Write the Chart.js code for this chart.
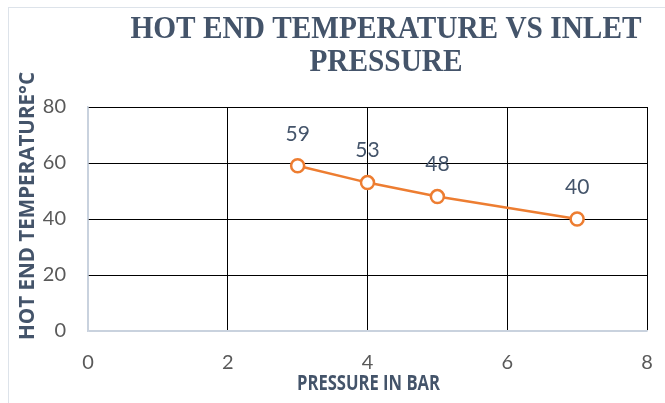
<!DOCTYPE html>
<html>
<head>
<meta charset="utf-8">
<title>Hot end temperature vs inlet pressure</title>
<script src="https://cdn.jsdelivr.net/npm/chart.js@4/dist/chart.umd.min.js"></script>
<style>
  html, body { margin: 0; padding: 0; background: #fff; }
  #chart { display: block; }
</style>
</head>
<body>
<canvas id="chart" width="665" height="403"></canvas>
<script>
// Data
const pressures = [3, 4, 5, 7];          // bar
const temperatures = [59, 53, 48, 40];   // °C
const xTicks = [0, 2, 4, 6, 8];
const yTicks = [0, 20, 40, 60, 80];

const titleLines = ['HOT END TEMPERATURE VS INLET', 'PRESSURE'];
const xTitle = 'PRESSURE IN BAR';
const yTitle = 'HOT END TEMPERATURE°C';

const textColor = '#44546A';
const tickColor = '#595959';
const axisColor = '#C9D2DE';

// draw text squeezed/stretched horizontally
function fitText(ctx, text, x, y, font, scaleX, rotation) {
    ctx.save();
    ctx.font = font;
    ctx.translate(x, y);
    if (rotation) ctx.rotate(rotation);
    ctx.scale(scaleX, 1);
    ctx.textAlign = 'center';
    ctx.textBaseline = 'middle';
    ctx.fillText(text, 0, 0);
    ctx.restore();
}

const decorations = {
    id: 'decorations',
    beforeDraw(chart) {
        const ctx = chart.ctx;
        ctx.save();
        ctx.fillStyle = '#fff';
        ctx.fillRect(0, 0, chart.width, chart.height);
        ctx.strokeStyle = '#DDE3EA';
        ctx.lineWidth = 1;
        ctx.strokeRect(8.5, 7.5, chart.width + 20, chart.height + 20);
        ctx.restore();
    },
    afterDraw(chart) {
        const ctx = chart.ctx;
        const area = chart.chartArea;
        ctx.save();
        ctx.fillStyle = textColor;

        // chart title (serif, bold)
        const titleFont = 'bold 32px "Liberation Serif"';
        ctx.font = titleFont;
        const sx = 511 / ctx.measureText(titleLines[0]).width;
        fitText(ctx, titleLines[0], 386, 30, titleFont, sx);
        fitText(ctx, titleLines[1], 386, 63, titleFont, sx);

        // axis titles
        const axisFont = 'bold 21px "Open Sans"';
        ctx.font = axisFont;
        const ax = 143 / ctx.measureText(xTitle).width;
        fitText(ctx, xTitle, (area.left + area.right) / 2 + 1, 384, axisFont, ax);
        const ay = 268 / ctx.measureText(yTitle).width;
        fitText(ctx, yTitle, 28, 206, axisFont, ay, -Math.PI / 2);

        // data labels above the points
        const meta = chart.getDatasetMeta(0);
        ctx.font = '21px Lato';
        ctx.textAlign = 'center';
        ctx.textBaseline = 'middle';
        meta.data.forEach((pt, i) => {
            ctx.fillText(String(temperatures[i]), pt.x, pt.y - 32);
        });
        ctx.restore();
    }
};

new Chart(document.getElementById('chart'), {
    type: 'scatter',
    data: {
        datasets: [{
            data: pressures.map((p, i) => ({ x: p, y: temperatures[i] })),
            showLine: true,
            borderColor: '#ED7D31',
            borderWidth: 2.5,
            pointRadius: 6.5,
            pointHoverRadius: 6.5,
            pointBorderWidth: 2.5,
            pointBackgroundColor: '#fff',
            pointBorderColor: '#ED7D31'
        }]
    },
    options: {
        responsive: false,
        animation: false,
        layout: { padding: { top: 107, right: 18, left: 0, bottom: 0 } },
        plugins: {
            legend: { display: false },
            title: { display: false },
            tooltip: { enabled: false }
        },
        scales: {
            x: {
                type: 'linear',
                min: xTicks[0],
                max: xTicks[xTicks.length - 1],
                afterBuildTicks: s => { s.ticks = xTicks.map(v => ({ value: v })); },
                afterFit: s => { s.height = 72; s.paddingLeft = 0; s.paddingRight = 0; },
                ticks: { padding: 20, color: tickColor, font: { family: 'Lato', size: 20 } },
                grid: {
                    color: c => c.tick && c.tick.value === 0 ? axisColor : '#000',
                    lineWidth: 1,
                    drawTicks: false
                },
                border: { color: axisColor, width: 1.5 }
            },
            y: {
                min: yTicks[0],
                max: yTicks[yTicks.length - 1],
                afterBuildTicks: s => { s.ticks = yTicks.map(v => ({ value: v })); },
                afterFit: s => { s.width = 88; s.paddingTop = 0; s.paddingBottom = 0; },
                ticks: { padding: 22, color: tickColor, font: { family: 'Lato', size: 20 } },
                grid: {
                    color: c => c.tick && c.tick.value === 0 ? axisColor : '#000',
                    lineWidth: 1,
                    drawTicks: false
                },
                border: { color: axisColor, width: 1.5 }
            }
        }
    },
    plugins: [decorations]
});
</script>
</body>
</html>
